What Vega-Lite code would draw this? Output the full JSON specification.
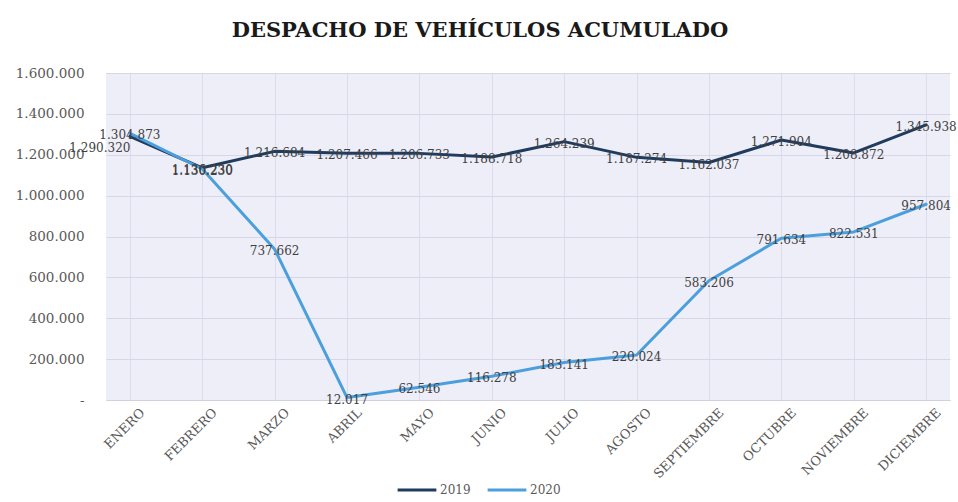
{
  "$schema": "https://vega.github.io/schema/vega-lite/v6.json",
  "autosize": "none",
  "width": 844,
  "height": 327,
  "padding": {"left": 106, "top": 73, "right": 8, "bottom": 102},
  "background": "white",
  "config": {
    "locale": {"number": {"decimal": ",", "thousands": ".", "grouping": [3], "currency": ["", ""]}},
    "view": {"fill": "#eeeef8", "stroke": null},
    "font": "DejaVu Serif"
  },
  "title": {
    "text": "DESPACHO DE VEHÍCULOS ACUMULADO",
    "font": "DejaVu Serif",
    "fontSize": 21,
    "fontWeight": "bold",
    "color": "#1a1a1a",
    "anchor": "middle",
    "offset": 25,
    "dx": -48
  },
  "data": {
    "values": [
      {"mes": "ENERO", "anio": "2019", "v": 1290320},
      {"mes": "FEBRERO", "anio": "2019", "v": 1136230},
      {"mes": "MARZO", "anio": "2019", "v": 1216684},
      {"mes": "ABRIL", "anio": "2019", "v": 1207466},
      {"mes": "MAYO", "anio": "2019", "v": 1206733},
      {"mes": "JUNIO", "anio": "2019", "v": 1188718},
      {"mes": "JULIO", "anio": "2019", "v": 1264239},
      {"mes": "AGOSTO", "anio": "2019", "v": 1187274},
      {"mes": "SEPTIEMBRE", "anio": "2019", "v": 1162037},
      {"mes": "OCTUBRE", "anio": "2019", "v": 1271904},
      {"mes": "NOVIEMBRE", "anio": "2019", "v": 1208872},
      {"mes": "DICIEMBRE", "anio": "2019", "v": 1345938},
      {"mes": "ENERO", "anio": "2020", "v": 1304873},
      {"mes": "FEBRERO", "anio": "2020", "v": 1130230},
      {"mes": "MARZO", "anio": "2020", "v": 737662},
      {"mes": "ABRIL", "anio": "2020", "v": 12017},
      {"mes": "MAYO", "anio": "2020", "v": 62546},
      {"mes": "JUNIO", "anio": "2020", "v": 116278},
      {"mes": "JULIO", "anio": "2020", "v": 183141},
      {"mes": "AGOSTO", "anio": "2020", "v": 220024},
      {"mes": "SEPTIEMBRE", "anio": "2020", "v": 583206},
      {"mes": "OCTUBRE", "anio": "2020", "v": 791634},
      {"mes": "NOVIEMBRE", "anio": "2020", "v": 822531},
      {"mes": "DICIEMBRE", "anio": "2020", "v": 957804}
    ]
  },
  "encoding": {
    "x": {
      "field": "mes",
      "type": "ordinal",
      "sort": null,
      "scale": {"type": "point", "padding": 0.33},
      "axis": {
        "title": null,
        "labelAngle": -45,
        "labelFont": "DejaVu Serif",
        "labelFontSize": 13,
        "labelColor": "#595959",
        "labelPadding": 6,
        "labelOffset": 8,
        "ticks": false,
        "domain": true,
        "domainColor": "#d0d0e0",
        "grid": true,
        "gridColor": "#dcdcec",
        "gridWidth": 1
      }
    },
    "y": {
      "field": "v",
      "type": "quantitative",
      "scale": {"domain": [0, 1600000], "nice": false},
      "axis": {
        "title": null,
        "values": [0, 200000, 400000, 600000, 800000, 1000000, 1200000, 1400000, 1600000],
        "labelExpr": "datum.value == 0 ? '-' : format(datum.value, ',d')",
        "labelFont": "DejaVu Serif",
        "labelFontSize": 13.5,
        "labelColor": "#595959",
        "labelPadding": 22,
        "ticks": false,
        "domain": false,
        "grid": true,
        "gridColor": "#d6d6e8",
        "gridWidth": 1
      }
    }
  },
  "layer": [
    {
      "mark": {"type": "line", "strokeWidth": 3, "strokeCap": "round", "strokeJoin": "round"},
      "encoding": {
        "color": {
          "field": "anio",
          "type": "nominal",
          "scale": {"domain": ["2019", "2020"], "range": ["#1f3b5e", "#4a9fdc"]},
          "legend": {
            "title": null,
            "orient": "none",
            "legendX": 290,
            "legendY": 396,
            "direction": "horizontal",
            "symbolType": "stroke",
            "symbolStrokeWidth": 3,
            "symbolSize": 1500,
            "labelFont": "DejaVu Serif",
            "labelFontSize": 12,
            "labelColor": "#595959",
            "labelOffset": 2,
            "columnPadding": 10
          }
        }
      }
    },
    {
      "transform": [{"filter": "!(datum.mes == 'ENERO' && datum.anio == '2019')"}],
      "mark": {"type": "text", "font": "DejaVu Serif", "fontSize": 12, "color": "#404040", "dy": 2, "dx": 0},
      "encoding": {
        "text": {"field": "v", "type": "quantitative", "format": ",d"}
      }
    },
    {
      "transform": [{"filter": "datum.mes == 'ENERO' && datum.anio == '2019'"}],
      "mark": {"type": "text", "font": "DejaVu Serif", "fontSize": 12, "color": "#404040", "dy": 12, "dx": -30},
      "encoding": {
        "text": {"field": "v", "type": "quantitative", "format": ",d"}
      }
    }
  ]
}
